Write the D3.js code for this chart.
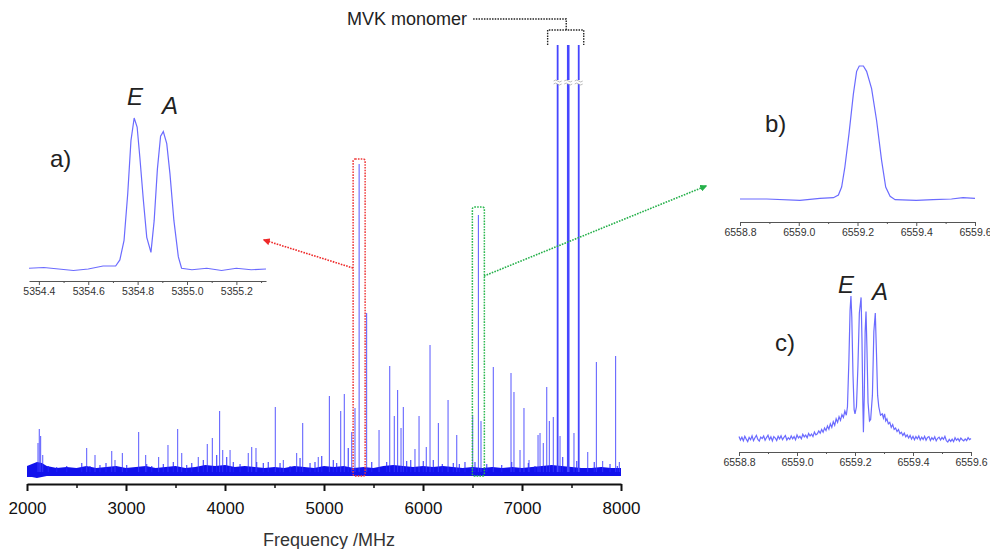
<!DOCTYPE html>
<html>
<head>
<meta charset="utf-8">
<script src="https://cdn.jsdelivr.net/npm/d3@7"></script>
<style>
  body { margin: 0; background: #fff; }
  svg text { font-family: Arial, "Liberation Sans", sans-serif; }
</style>
</head>
<body>
<div class="chart"></div>
<script>
// ---- Data ----
// main spectrum: [frequency MHz, intensity a.u.]
const mainPeaks = [
  [2111, 29], [2124, 43], [2138, 36], [2159, 17], [2603, 24], [2687, 17], [2856, 21], [2889, 12],
  [2963, 19], [3128, 40], [3199, 17], [3330, 15], [3424, 27], [3522, 43], [3563, 19], [3730, 15],
  [3821, 28], [3872, 34], [3946, 61], [3977, 22], [4051, 22], [4235, 19], [4270, 25], [4313, 24],
  [4508, 65], [4589, 12], [4724, 19], [4785, 49], [4942, 15], [5054, 76], [5169, 61], [5205, 78],
  [5280, 40], [5313, 64], [5354.8, 308], [5431, 159], [5556, 42], [5664, 106], [5710, 56], [5744, 82],
  [5778, 44], [5801, 65], [5919, 23], [5960, 56], [6033, 25], [6071, 127], [6155, 49], [6253, 72],
  [6341, 37], [6502, 57], [6559.2, 257], [6586, 51], [6710, 105], [6889, 99], [6919, 80], [6980, 22],
  [7020, 64], [7071, 12], [7162, 37], [7182, 39], [7215, 29], [7250, 85], [7276, 51], [7316, 55],
  [7384, 36], [7525, 39], [7664, 20], [7751, 110], [7815, 11], [7946, 116], [7983, 10]
];
// small lines standing out of the noise
const smallPeaks = [
  [2215, 6], [2300, 5], [2401, 6], [2553, 9], [2636, 6], [2737, 7], [2798, 9], [3007, 7],
  [3209, 8], [3260, 6], [3377, 8], [3478, 10], [3613, 7], [3664, 9], [3781, 12], [3916, 17],
  [4017, 15], [4084, 10], [4152, 8], [4320, 10], [4387, 9], [4437, 10], [4556, 9], [4657, 6],
  [4758, 14], [4859, 9], [4909, 10], [4977, 16], [5094, 12], [5128, 9], [5245, 24], [5482, 10],
  [5633, 10], [5835, 11], [5876, 12], [6003, 11], [6104, 12], [6195, 8], [6306, 9], [6367, 8],
  [6424, 10], [6525, 10], [6644, 8], [6795, 7], [6896, 10], [7064, 9], [7131, 6], [7411, 15],
  [7553, 11], [7730, 10], [7889, 8], [7963, 6]
];
// MVK monomer lines (off scale, drawn broken)
const mvkPeaks = [7360, 7467, 7573];
// noise band: [frequency, low, high]
const noiseBand = [
  [2000, -5, 6], [2050, -5, 8], [2100, -6, 10], [2150, -5, 9], [2200, -4, 6], [2300, -4, 4],
  [2400, -4, 5], [2500, -4, 4], [2600, -4, 6], [2700, -4, 4], [2800, -4, 5], [2900, -4, 6],
  [3000, -4, 4], [3100, -4, 5], [3200, -4, 6], [3300, -4, 4], [3400, -4, 5], [3500, -4, 6],
  [3600, -4, 4], [3700, -4, 5], [3800, -4, 7], [3900, -4, 6], [4000, -4, 7], [4100, -4, 5],
  [4200, -4, 6], [4300, -4, 5], [4400, -4, 4], [4500, -4, 5], [4600, -4, 4], [4700, -4, 6],
  [4800, -4, 5], [4900, -4, 4], [5000, -4, 6], [5100, -4, 5], [5200, -4, 6], [5300, -4, 4],
  [5400, -4, 5], [5500, -4, 4], [5600, -4, 6], [5700, -4, 7], [5800, -4, 6], [5900, -4, 5],
  [6000, -4, 6], [6100, -4, 5], [6200, -4, 6], [6300, -4, 5], [6400, -4, 4], [6500, -4, 5],
  [6600, -4, 4], [6700, -4, 5], [6800, -4, 4], [6900, -4, 5], [7000, -4, 4], [7100, -4, 5],
  [7200, -4, 6], [7300, -4, 7], [7400, -4, 6], [7500, -4, 5], [7600, -4, 4], [7700, -4, 4],
  [7800, -4, 5], [7900, -4, 4], [8000, -4, 4]
];
const mainTicks = [2000, 3000, 4000, 5000, 6000, 7000, 8000];
const mainMinor = [2500, 3500, 4500, 5500, 6500, 7500];

// inset a) 5354.8 MHz doublet
const specA = [
  [5354.360, 0.005], [5354.420, 0.010], [5354.480, 0.000], [5354.540, -0.010], [5354.600, 0.000],
  [5354.660, 0.020], [5354.700, 0.020], [5354.711, 0.020], [5354.728, 0.060], [5354.745, 0.190],
  [5354.760, 0.500], [5354.773, 0.850], [5354.786, 1.000], [5354.798, 0.940], [5354.809, 0.740],
  [5354.823, 0.460], [5354.837, 0.210], [5354.854, 0.110], [5354.867, 0.320], [5354.880, 0.660],
  [5354.893, 0.880], [5354.904, 0.910], [5354.918, 0.830], [5354.931, 0.630], [5354.947, 0.320],
  [5354.965, 0.080], [5354.978, 0.005], [5355.020, -0.005], [5355.080, 0.005], [5355.140, -0.010],
  [5355.200, 0.005], [5355.260, -0.005], [5355.320, 0.000]
];
const ticksA = [5354.4, 5354.6, 5354.8, 5355.0, 5355.2];
const minorA = [5354.5, 5354.7, 5354.9, 5355.1, 5355.3];

// inset b) 6559.2 MHz line
const specB = [
  [6558.800, 0.000], [6558.891, 0.000], [6559.004, -0.010], [6559.072, 0.005], [6559.118, 0.010],
  [6559.135, 0.030], [6559.146, 0.090], [6559.157, 0.240], [6559.171, 0.490], [6559.186, 0.790],
  [6559.197, 0.960], [6559.206, 1.000], [6559.220, 1.000], [6559.231, 0.960], [6559.248, 0.830],
  [6559.265, 0.590], [6559.282, 0.290], [6559.296, 0.090], [6559.311, 0.020], [6559.328, -0.005],
  [6559.400, -0.010], [6559.457, -0.005], [6559.520, 0.000], [6559.559, 0.010], [6559.600, 0.005]
];
// inset c) same line, higher resolution
const specC = [
  [6558.800, 0.010], [6558.805, -0.015], [6558.810, 0.005], [6558.815, -0.020], [6558.820, 0.012],
  [6558.825, -0.008], [6558.830, -0.025], [6558.835, 0.004], [6558.840, -0.012], [6558.845, 0.015],
  [6558.850, -0.018], [6558.855, 0.002], [6558.860, 0.018], [6558.865, -0.010], [6558.870, -0.022],
  [6558.875, 0.006], [6558.880, -0.004], [6558.885, 0.014], [6558.890, -0.016], [6558.895, 0.003],
  [6558.900, 0.020], [6558.905, -0.012], [6558.910, 0.008], [6558.915, -0.020], [6558.920, 0.010],
  [6558.925, 0.000], [6558.930, -0.018], [6558.935, 0.012], [6558.940, -0.006], [6558.945, 0.016],
  [6558.950, -0.012], [6558.955, 0.004], [6558.960, 0.018], [6558.965, -0.014], [6558.970, 0.002],
  [6558.975, -0.010], [6558.980, 0.014], [6558.985, -0.006], [6558.990, 0.010], [6558.995, -0.012],
  [6559.000, 0.022], [6559.005, 0.000], [6559.010, 0.012], [6559.015, -0.006], [6559.020, 0.026],
  [6559.025, 0.008], [6559.030, 0.020], [6559.035, 0.002], [6559.040, 0.032], [6559.045, 0.014],
  [6559.050, 0.028], [6559.055, 0.010], [6559.060, 0.042], [6559.065, 0.022], [6559.070, 0.030],
  [6559.075, 0.050], [6559.080, 0.034], [6559.085, 0.060], [6559.090, 0.040], [6559.095, 0.070],
  [6559.100, 0.052], [6559.105, 0.085], [6559.110, 0.062], [6559.115, 0.100], [6559.120, 0.075],
  [6559.125, 0.115], [6559.130, 0.090], [6559.135, 0.135], [6559.140, 0.110], [6559.145, 0.150],
  [6559.150, 0.125], [6559.155, 0.165], [6559.160, 0.145], [6559.165, 0.190], [6559.170, 0.160],
  [6559.174, 0.220], [6559.179, 0.550], [6559.183, 0.900], [6559.186, 1.000], [6559.189, 0.850],
  [6559.193, 0.450], [6559.197, 0.200], [6559.200, 0.170], [6559.205, 0.220], [6559.210, 0.500],
  [6559.215, 0.880], [6559.221, 0.990], [6559.224, 0.700], [6559.227, 0.250], [6559.229, 0.040],
  [6559.232, 0.300], [6559.235, 0.750], [6559.238, 0.890], [6559.241, 0.650], [6559.245, 0.250],
  [6559.250, 0.120], [6559.254, 0.130], [6559.260, 0.300], [6559.265, 0.750], [6559.270, 0.880],
  [6559.274, 0.600], [6559.278, 0.300], [6559.282, 0.220], [6559.288, 0.160], [6559.294, 0.170],
  [6559.298, 0.140], [6559.302, 0.170], [6559.306, 0.120], [6559.310, 0.135], [6559.315, 0.100],
  [6559.320, 0.110], [6559.325, 0.075], [6559.330, 0.095], [6559.335, 0.060], [6559.340, 0.070],
  [6559.345, 0.045], [6559.350, 0.060], [6559.355, 0.030], [6559.360, 0.040], [6559.365, 0.018],
  [6559.370, 0.034], [6559.375, 0.008], [6559.380, 0.022], [6559.385, 0.000], [6559.390, 0.018],
  [6559.395, -0.008], [6559.400, 0.012], [6559.405, -0.012], [6559.410, 0.010], [6559.415, -0.006],
  [6559.420, 0.014], [6559.425, -0.014], [6559.430, 0.006], [6559.435, -0.010], [6559.440, 0.012],
  [6559.445, -0.016], [6559.450, 0.004], [6559.455, 0.010], [6559.460, -0.018], [6559.465, 0.002],
  [6559.470, -0.012], [6559.475, 0.008], [6559.480, -0.020], [6559.485, -0.002], [6559.490, 0.006],
  [6559.495, -0.014], [6559.500, 0.004], [6559.505, -0.010], [6559.510, 0.012], [6559.515, -0.018],
  [6559.520, -0.028], [6559.525, -0.010], [6559.530, -0.024], [6559.535, -0.008], [6559.540, -0.026],
  [6559.545, 0.002], [6559.550, -0.016], [6559.555, -0.004], [6559.560, -0.022], [6559.565, 0.000],
  [6559.570, -0.012], [6559.575, -0.020], [6559.580, -0.006], [6559.585, -0.018], [6559.590, 0.002],
  [6559.595, -0.012], [6559.600, -0.004]
];
const ticksBC = [6558.8, 6559.0, 6559.2, 6559.4, 6559.6];
const minorBC = [6558.9, 6559.1, 6559.3, 6559.5];

// ---- Drawing ----
const width = 990, height = 549;
const svg = d3.select(".chart").append("svg")
  .attr("width", width).attr("height", height);

const defs = svg.append("defs");
function arrowMarker(id, color) {
  defs.append("marker").attr("id", id)
    .attr("viewBox", "0 0 10 10").attr("refX", 8).attr("refY", 5)
    .attr("markerWidth", 4.5).attr("markerHeight", 4.5)
    .attr("orient", "auto")
    .append("path").attr("d", "M0,0 L10,5 L0,10 z").attr("fill", color);
}
arrowMarker("arrRed", "#ee2a2a");
arrowMarker("arrGreen", "#25b04a");

// main scales
const xMain = d3.scaleLinear().domain([2000, 8000]).range([27, 621]);
const yMain = d3.scaleLinear().domain([0, 427]).range([472, 45]);

const g = svg.append("g");

// noise band
g.append("path")
  .datum(noiseBand)
  .attr("d", d3.area().x(d => xMain(d[0])).y0(d => yMain(d[1])).y1(d => yMain(d[2])))
  .attr("fill", "#1212ec");

// small lines
g.selectAll(".small").data(smallPeaks).enter().append("line")
  .attr("x1", d => xMain(d[0])).attr("x2", d => xMain(d[0]))
  .attr("y1", yMain(0)).attr("y2", d => yMain(d[1]))
  .attr("stroke", "#2222ff").attr("stroke-width", 1.2).attr("opacity", 0.8);

// main lines
g.selectAll(".peak").data(mainPeaks).enter().append("line")
  .attr("class", "peak")
  .attr("x1", d => xMain(d[0])).attr("x2", d => xMain(d[0]))
  .attr("y1", yMain(0)).attr("y2", d => yMain(d[1]))
  .attr("stroke", "#3a3aff").attr("stroke-width", 1).attr("opacity", 0.85);

// MVK lines with a scale break
const yTop = yMain.range()[1];
const breakY = 82;
mvkPeaks.forEach((f, i) => {
  const x = xMain(f);
  const w = i === 1 ? 2.6 : 1.8;
  g.append("line").attr("x1", x).attr("x2", x).attr("y1", yMain(0)).attr("y2", breakY + 2)
    .attr("stroke", "#4646ff").attr("stroke-width", w);
  g.append("line").attr("x1", x).attr("x2", x).attr("y1", breakY - 2).attr("y2", yTop)
    .attr("stroke", "#4646ff").attr("stroke-width", w);
  g.append("path")
    .attr("d", `M${x - 4},${breakY - 1} q2,-2 4,0 t4,0 M${x - 4},${breakY + 2} q2,-2 4,0 t4,0`)
    .attr("fill", "none").attr("stroke", "#aaaaaa").attr("stroke-width", 0.8);
});

// MVK bracket and label
const bx0 = xMain(mvkPeaks[0]) - 10, bx1 = xMain(mvkPeaks[2]) + 5;
const bxm = xMain(mvkPeaks[1]) - 2;
svg.append("path")
  .attr("d", `M${bx0},${yTop} V30 H${bx1} V${yTop} M${bxm},30 V19 H472`)
  .attr("fill", "none").attr("stroke", "#222").attr("stroke-width", 1.4)
  .attr("stroke-dasharray", "1.5,1.2");
svg.append("text").attr("x", 467).attr("y", 25).attr("text-anchor", "end")
  .attr("font-size", 18).attr("fill", "#222").text("MVK monomer");

// highlight boxes
function box(f, top, color) {
  const x = xMain(f);
  svg.append("rect")
    .attr("x", x - 6).attr("y", top).attr("width", 12).attr("height", 476 - top)
    .attr("rx", 2)
    .attr("fill", "none").attr("stroke", color).attr("stroke-width", 1.5)
    .attr("stroke-dasharray", "1.6,1.2");
}
box(5354.8, 159, "#ee3a3a");
box(6559.2, 207, "#2bb84f");

// arrows
svg.append("line").attr("x1", 353).attr("y1", 268).attr("x2", 264).attr("y2", 240)
  .attr("stroke", "#ee2a2a").attr("stroke-width", 1.6).attr("stroke-dasharray", "1.6,1.2")
  .attr("marker-end", "url(#arrRed)");
svg.append("line").attr("x1", 484).attr("y1", 276).attr("x2", 706).attr("y2", 186)
  .attr("stroke", "#25b04a").attr("stroke-width", 1.6).attr("stroke-dasharray", "1.6,1.2")
  .attr("marker-end", "url(#arrGreen)");

// main axis
const axMain = svg.append("g").attr("transform", "translate(0,484)")
  .call(d3.axisBottom(xMain).tickValues(mainTicks).tickSize(7).tickSizeOuter(0)
    .tickPadding(11).tickFormat(d3.format("d")));
axMain.select(".domain").attr("stroke", "#111").attr("stroke-width", 2);
axMain.selectAll(".tick line").attr("stroke", "#111").attr("stroke-width", 2);
axMain.selectAll("text").attr("font-size", 17).attr("fill", "#111")
  .style("font-family", "Arial, 'Liberation Sans', sans-serif");
const axMainMinor = svg.append("g").attr("transform", "translate(0,484)")
  .call(d3.axisBottom(xMain).tickValues(mainMinor).tickSize(4).tickFormat(""));
axMainMinor.select(".domain").remove();
axMainMinor.selectAll(".tick line").attr("stroke", "#111").attr("stroke-width", 1.5);

svg.append("text").attr("x", 329).attr("y", 546).attr("text-anchor", "middle")
  .attr("font-size", 18).attr("fill", "#333").text("Frequency /MHz");

// insets
function inset(data, xDom, xRange, yRange, axisY, ticks, minor) {
  const x = d3.scaleLinear().domain(xDom).range(xRange);
  const y = d3.scaleLinear().domain([0, 1]).range(yRange);
  svg.append("path").datum(data)
    .attr("d", d3.line().x(d => x(d[0])).y(d => y(d[1])))
    .attr("fill", "none").attr("stroke", "#6b6bff").attr("stroke-width", 1.2);
  const ax = svg.append("g").attr("transform", `translate(0,${axisY})`)
    .call(d3.axisBottom(x).tickValues(ticks).tickSize(4).tickSizeOuter(0)
      .tickPadding(3).tickFormat(d3.format(".1f")));
  ax.select(".domain").attr("stroke", "#555");
  ax.selectAll(".tick line").attr("stroke", "#555");
  ax.selectAll("text").attr("font-size", 10.5).attr("fill", "#333")
    .style("font-family", "Arial, 'Liberation Sans', sans-serif");
  const axm = svg.append("g").attr("transform", `translate(0,${axisY})`)
    .call(d3.axisBottom(x).tickValues(minor.filter(v => v <= xDom[1])).tickSize(2).tickFormat(""));
  axm.select(".domain").remove();
  axm.selectAll(".tick line").attr("stroke", "#555");
}
inset(specA, [5354.36, 5355.32], [29, 266], [269, 118], 281, ticksA, minorA);
inset(specB, [6558.8, 6559.6], [740, 975], [199, 66], 222, ticksBC, minorBC);
inset(specC, [6558.8, 6559.6], [739, 971], [438, 296], 452, ticksBC, minorBC);

// inset labels
function label(x, y, txt, italic) {
  svg.append("text").attr("x", x).attr("y", y).attr("font-size", 24)
    .attr("fill", "#222").attr("font-style", italic ? "italic" : "normal").text(txt);
}
label(50, 167, "a)");
label(127, 105, "E", true);
label(162, 114, "A", true);
label(765, 132, "b)");
label(775, 351, "c)");
label(838, 293, "E", true);
label(872, 300, "A", true);
</script>
</body>
</html>
